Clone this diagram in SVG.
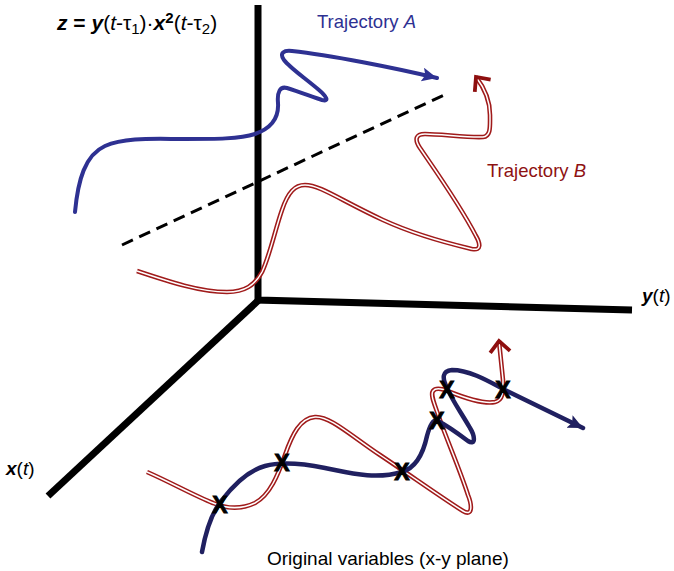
<svg xmlns="http://www.w3.org/2000/svg" width="674" height="571" viewBox="0 0 674 571">
<style>
  text { font-family: "Liberation Sans", Arial, sans-serif; }
  .axis { fill: none; stroke: #000; stroke-width: 7; stroke-linejoin: miter; }
  .dash { fill: none; stroke: #000; stroke-width: 3; stroke-dasharray: 12 7; }
  .blueA { fill: none; stroke: #2E3192; stroke-width: 4; stroke-linecap: round; }
  .blueP { fill: none; stroke: #202060; stroke-width: 4.5; stroke-linecap: round; }
  .redO { fill: none; stroke: #A01B1B; stroke-width: 4.6; }
  .redI { fill: none; stroke: #fff; stroke-width: 1.5; }
  .xm { font-weight: bold; font-size: 23px; text-anchor: middle; fill: #000; stroke: #000; stroke-width: 0.9; }
  .bi { font-weight: bold; font-style: italic; }
  .it { font-style: italic; }
</style>
<defs>
  <marker id="triA" markerUnits="userSpaceOnUse" markerWidth="20" markerHeight="16" refX="15" refY="7" orient="auto">
    <path d="M0,0 L15,7 L0,14 L3,7 Z" fill="#2E3192"/>
  </marker>
  <marker id="triP" markerUnits="userSpaceOnUse" markerWidth="20" markerHeight="16" refX="15" refY="7" orient="auto">
    <path d="M0,0 L15,7 L0,14 L3,7 Z" fill="#202060"/>
  </marker>
  <marker id="chev" markerUnits="userSpaceOnUse" markerWidth="22" markerHeight="26" refX="14" refY="11" orient="auto" overflow="visible">
    <path d="M3,1 L14,11 L3,21" fill="none" stroke="#8E0F0F" stroke-width="3.8" stroke-linejoin="miter"/>
  </marker>
  <path id="bTop" d="M137,271 C170,282 200,292 227,292 C245,292 255,285 262,272 C270,255 275,230 282,210 C288,192 295,185 305,185 C320,185 340,200 383,220 C420,237 455,245 472,249 C482,251 480,243 476,236 C460,205 435,170 420,148 C414,139 416,134 425,134 C440,134 470,138 483,137 C491,136 490,127 490,115 C490,102 486,90 476,77"/>
  <path id="bBot" d="M147,472 C170,482 195,496 213,503 C225,508 240,510 255,503 C270,495 278,475 285,455 C292,435 300,418 315,417 C330,416 350,435 380,455 C410,475 445,500 463,511 C473,517 472,505 468,495 C460,470 447,440 440,420 C435,405 430,395 433,391 C436,387 443,389 450,392 C465,398 485,404 495,402 C503,400 503,393 503,380 L499,341"/>
</defs>

<g id="axes">
  <polyline class="axis" points="258,5 258,300 632,310"/>
  <line class="axis" x1="261" y1="298" x2="48" y2="496"/>
  <text x="642" y="302" font-size="19"><tspan class="bi">y</tspan>(<tspan class="it">t</tspan>)</text>
  <text x="6" y="475" font-size="19"><tspan class="bi">x</tspan>(<tspan class="it">t</tspan>)</text>
  <text x="57" y="30" font-size="21"><tspan class="bi">z</tspan><tspan font-weight="bold"> = </tspan><tspan class="bi">y</tspan>(<tspan class="it">t</tspan>-τ<tspan font-size="15" dy="4">1</tspan><tspan dy="-4">)·</tspan><tspan class="bi">x</tspan><tspan font-weight="bold" font-size="15" dy="-7">2</tspan><tspan dy="7">(</tspan><tspan class="it">t</tspan>-τ<tspan font-size="15" dy="4">2</tspan><tspan dy="-4">)</tspan></text>
</g>

<g id="separator">
  <line class="dash" x1="122" y1="245" x2="444" y2="95"/>
</g>

<g id="trajectoryB">
  <use href="#bTop" class="redO"/>
  <use href="#bTop" class="redI" marker-end="url(#chev)"/>
  <text x="487" y="177" font-size="18.5" fill="#8E1212">Trajectory <tspan class="it">B</tspan></text>
</g>

<g id="trajectoryA">
  <path class="blueA" marker-end="url(#triA)" d="M75,212 C78,180 85,155 105,146 C125,137 155,139 185,139 C215,139 240,139 255,134 C272,128 279,118 278,103 C277,92 280,86 287,88 C300,92 315,98 322,100 C330,102 326,96 319,90 C305,78 290,68 284,60 C279,53 284,50 292,51 C330,55 395,68 437,78"/>
  <text x="317" y="28" font-size="18.5" fill="#2E3192">Trajectory <tspan class="it">A</tspan></text>
</g>

<g id="plane">
  <use href="#bBot" class="redO"/>
  <use href="#bBot" class="redI" marker-end="url(#chev)"/>
  <path class="blueP" marker-end="url(#triP)" d="M202,552 C206,530 212,512 222,500 C235,483 250,470 265,466 C280,462 300,463 325,468 C350,473 375,480 402,472 C418,467 424,450 427,436 C430,425 433,419 438,421 C448,426 460,435 468,441 C476,446 475,436 470,428 C462,414 452,400 447,388 C442,378 442,371 452,370 C470,370 490,382 505,390 L583,428"/>
  <g id="crossings">
    <text class="xm" x="220" y="513">X</text>
    <text class="xm" x="282" y="471">X</text>
    <text class="xm" x="402" y="480">X</text>
    <text class="xm" x="437" y="429">X</text>
    <text class="xm" x="447" y="398">X</text>
    <text class="xm" x="503" y="398">X</text>
  </g>
  <text x="267" y="565" font-size="19" fill="#000">Original variables (x-y plane)</text>
</g>
</svg>
